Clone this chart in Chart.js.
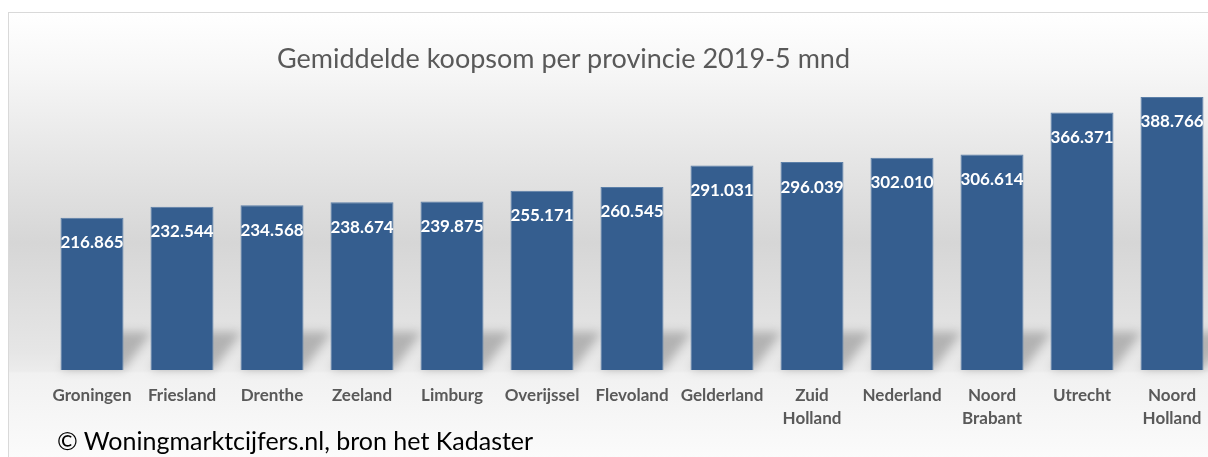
<!DOCTYPE html>
<html>
<head>
<meta charset="utf-8">
<script src="https://cdn.jsdelivr.net/npm/chart.js@4"></script>
<style>
  html, body { margin: 0; padding: 0; background: #fff; }
  #wrap { position: relative; width: 1208px; height: 457px; overflow: hidden; }
  #frame {
    position: absolute; left: 8px; top: 12px; width: 1240px; height: 470px;
    border: 1px solid #d9d9d9;
    background: linear-gradient(to bottom, #ffffff 0px, #f6f6f6 60px, #d6d6d6 230px, #e6e6e6 340px, #ececec 358px, #f1f1f1 360px, #fbfbfb 445px);
  }
  #chart { position: absolute; left: 0; top: 0; }
  .txt { position: absolute; white-space: nowrap; font-family: Lato, sans-serif; }
  #title { left: 277px; top: 41px; font-size: 27px; color: #595959; }
  #copy { left: 57px; top: 425px; font-size: 25px; color: #000; }
</style>
</head>
<body>
<div id="wrap">
  <div id="frame"></div>
  <canvas id="chart" width="1260" height="457"></canvas>
  <div class="txt" id="title">Gemiddelde koopsom per provincie 2019-5 mnd</div>
  <div class="txt" id="copy">© Woningmarktcijfers.nl, bron het Kadaster</div>
</div>
<script>
// provinces, sorted by average price
const provincies = ['Groningen', 'Friesland', 'Drenthe', 'Zeeland', 'Limburg', 'Overijssel',
    'Flevoland', 'Gelderland', ['Zuid', 'Holland'], 'Nederland', ['Noord', 'Brabant'],
    'Utrecht', ['Noord', 'Holland']];
const koopsom = [216865, 232544, 234568, 238674, 239875, 255171, 260545,
    291031, 296039, 302010, 306614, 366371, 388766];
const yMin = 0;
const yMax = 400000;

function formatNL(v) {
    return v.toLocaleString('nl-NL');
}

// soft shadow behind the bottom of each bar
const barShadow = {
    id: 'barShadow',
    beforeDatasetsDraw(chart) {
        const ctx = chart.ctx;
        const meta = chart.getDatasetMeta(0);
        ctx.save();
        ctx.filter = 'blur(5px)';
        ctx.fillStyle = 'rgba(0,0,0,0.22)';
        meta.data.forEach(bar => {
            const l = bar.x - bar.width / 2;
            const r = bar.x + bar.width / 2;
            const b = bar.base;
            ctx.beginPath();
            ctx.moveTo(l, b);
            ctx.lineTo(r, b);
            ctx.lineTo(r + 28, b - 38);
            ctx.lineTo(l + 28, b - 38);
            ctx.closePath();
            ctx.fill();
        });
        ctx.restore();
    }
};

// white value labels inside the top of the bars
const valueLabels = {
    id: 'valueLabels',
    afterDatasetsDraw(chart) {
        const ctx = chart.ctx;
        const meta = chart.getDatasetMeta(0);
        ctx.save();
        ctx.font = 'bold 17px Lato';
        ctx.fillStyle = '#ffffff';
        ctx.textAlign = 'center';
        ctx.textBaseline = 'middle';
        meta.data.forEach((bar, i) => {
            ctx.fillText(formatNL(koopsom[i]), bar.x, bar.y + 25);
        });
        ctx.restore();
    }
};

const ctx = document.getElementById('chart').getContext('2d');
const chart = new Chart(ctx, {
    type: 'bar',
    data: {
        labels: provincies,
        datasets: [{
            data: koopsom,
            backgroundColor: '#355e8f',
            borderColor: '#5b7fa8',
            borderWidth: 1,
            barPercentage: 0.7,
            categoryPercentage: 1.0
        }]
    },
    options: {
        responsive: false,
        animation: false,
        devicePixelRatio: 1,
        layout: { padding: { left: 47, right: 43, top: 89, bottom: 0 } },
        plugins: {
            legend: { display: false },
            title: { display: false },
            tooltip: { enabled: false }
        },
        scales: {
            x: {
                grid: { display: false, drawTicks: false },
                border: { display: false },
                ticks: {
                    color: '#595959',
                    font: { family: 'Lato', size: 17, weight: 'bold', lineHeight: 1.35 },
                    padding: 14,
                    maxRotation: 0,
                    autoSkip: false
                },
                afterFit(scale) { scale.height = 87; }
            },
            y: {
                display: false,
                min: yMin,
                max: yMax
            }
        }
    },
    plugins: [barShadow, valueLabels]
});
</script>
</body>
</html>
